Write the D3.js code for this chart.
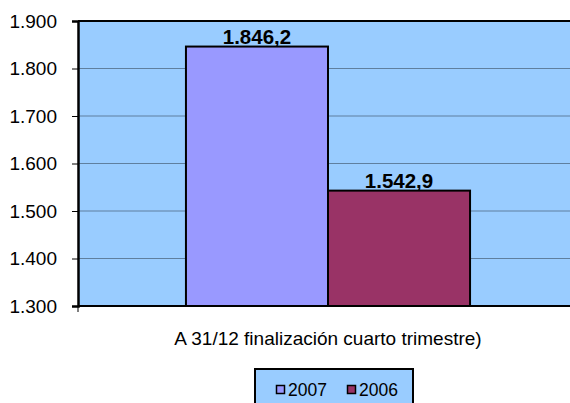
<!DOCTYPE html>
<html>
<head>
<meta charset="utf-8">
<script src="https://cdn.jsdelivr.net/npm/d3@7"></script>
<style>
  body { margin: 0; background: #fff; }
  svg { display: block; font-family: "Liberation Sans", Arial, sans-serif; }
</style>
</head>
<body>
<svg id="chart" width="570" height="403"></svg>
<script>
const categories = ["A 31/12 finalización cuarto trimestre)"];
const seriesNames = ["2007", "2006"];
const seriesValues = [1846.2, 1542.9];
const seriesColors = ["#9999FF", "#993366"];
const yTicks = [1300, 1400, 1500, 1600, 1700, 1800, 1900];

const svg = d3.select("#chart");
const plotLeft = 78, plotTop = 21, plotBottom = 306, plotRight = 578;

const fmt = d3.formatLocale({ decimal: ",", thousands: ".", grouping: [3], currency: ["", ""] });
const tickFmt = fmt.format(",.0f");
const valFmt = fmt.format(",.1f");

const y = d3.scaleLinear().domain([1300, 1900]).range([plotBottom, plotTop]);
const x0 = d3.scaleBand().domain(categories).range([plotLeft, plotRight]).paddingInner(0).paddingOuter(0.38);
const x1 = d3.scaleBand().domain(seriesNames).range([0, x0.bandwidth()]);

// plot background
svg.append("rect")
  .attr("x", plotLeft).attr("y", plotTop)
  .attr("width", plotRight - plotLeft).attr("height", plotBottom - plotTop)
  .attr("fill", "#99CCFF");

// gridlines
svg.append("g")
  .selectAll("line")
  .data(yTicks.slice(1, -1))
  .join("line")
  .attr("x1", plotLeft).attr("x2", plotRight)
  .attr("y1", d => y(d)).attr("y2", d => y(d))
  .attr("stroke", "#5f7f9f").attr("stroke-width", 1);

// bars
const data = seriesNames.map((s, i) => ({ name: s, value: seriesValues[i], color: seriesColors[i] }));
const g = svg.append("g").attr("transform", `translate(${x0(categories[0])},0)`);
g.selectAll("rect")
  .data(data)
  .join("rect")
  .attr("x", d => x1(d.name))
  .attr("y", d => y(d.value))
  .attr("width", x1.bandwidth())
  .attr("height", d => plotBottom - y(d.value))
  .attr("fill", d => d.color)
  .attr("stroke", "#000").attr("stroke-width", 2);

g.selectAll("text")
  .data(data)
  .join("text")
  .attr("x", d => x1(d.name) + x1.bandwidth() / 2)
  .attr("y", d => y(d.value) - 3)
  .attr("text-anchor", "middle")
  .attr("font-weight", "bold")
  .attr("font-size", 20.5)
  .text(d => valFmt(d.value));

// top and bottom border
svg.append("line").attr("x1", plotLeft).attr("x2", plotRight).attr("y1", plotTop).attr("y2", plotTop)
  .attr("stroke", "#000").attr("stroke-width", 2);
svg.append("line").attr("x1", plotLeft).attr("x2", plotRight).attr("y1", plotBottom).attr("y2", plotBottom)
  .attr("stroke", "#000").attr("stroke-width", 2);

// y axis
const yAxis = svg.append("g")
  .attr("transform", `translate(${plotLeft},0)`)
  .call(d3.axisLeft(y).tickValues(yTicks).tickFormat(tickFmt).tickSize(6).tickPadding(15));
yAxis.select(".domain").attr("stroke", "#000").attr("stroke-width", 2.5);
yAxis.selectAll(".tick line").attr("stroke", "#000");
yAxis.selectAll(".tick text").attr("font-size", 19).attr("fill", "#000")
  .attr("font-family", "Liberation Sans, Arial, sans-serif");

// x tick at left bottom corner
svg.append("line").attr("x1", plotLeft).attr("x2", plotLeft).attr("y1", plotBottom).attr("y2", plotBottom + 6)
  .attr("stroke", "#000");

// category label
svg.append("text")
  .attr("x", x0(categories[0]) + x0.bandwidth() / 2)
  .attr("y", 345)
  .attr("text-anchor", "middle")
  .attr("font-size", 19)
  .text(categories[0]);

// legend
const legend = svg.append("g");
legend.append("rect")
  .attr("x", 255).attr("y", 369).attr("width", 158).attr("height", 40)
  .attr("fill", "#99CCFF").attr("stroke", "#000").attr("stroke-width", 2);
const lx = [276, 347];
data.forEach((d, i) => {
  legend.append("rect")
    .attr("x", lx[i] + 0.5).attr("y", 385.5).attr("width", 8).attr("height", 8)
    .attr("fill", d.color).attr("stroke", "#000").attr("stroke-width", 1.5);
  legend.append("text")
    .attr("x", lx[i] + 12).attr("y", 396)
    .attr("font-size", 17.5)
    .text(d.name);
});
</script>
</body>
</html>
